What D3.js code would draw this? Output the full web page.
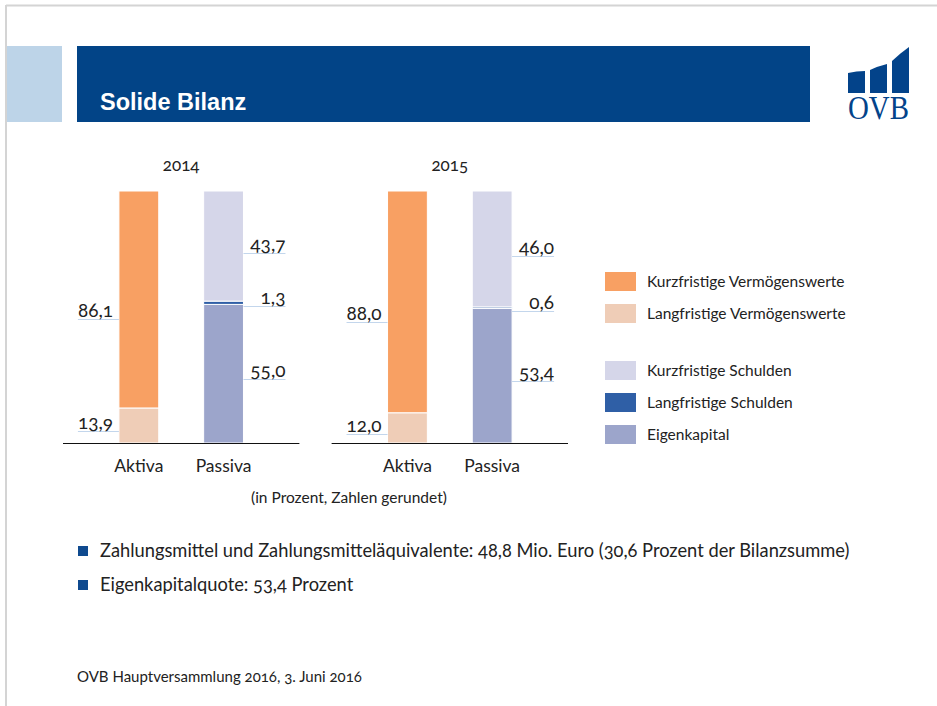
<!DOCTYPE html>
<html>
<head>
<meta charset="utf-8">
<script src="https://cdn.jsdelivr.net/npm/d3@7"></script>
<style>
  html, body { margin: 0; padding: 0; background: #fff; }
  svg { display: block; font-family: Lato, "Open Sans", sans-serif; font-variant-numeric: oldstyle-nums; }
</style>
</head>
<body>
<svg id="chart" width="937" height="706"></svg>
<script>
// Solide Bilanz — stacked Aktiva / Passiva per year

const years = ["2014", "2015"];
const sides = ["Aktiva", "Passiva"];

// Aktiva (bottom -> top)
const langfristigeVermoegen = [13.9, 12.0];
const kurzfristigeVermoegen = [86.1, 88.0];
// Passiva (bottom -> top)
const eigenkapital = [55.0, 53.4];
const langfristigeSchulden = [1.3, 0.6];
const kurzfristigeSchulden = [43.7, 46.0];

const legendNames = [
  "Kurzfristige Vermögenswerte",
  "Langfristige Vermögenswerte",
  "Kurzfristige Schulden",
  "Langfristige Schulden",
  "Eigenkapital"
];

const bullets = [
  "Zahlungsmittel und Zahlungsmitteläquivalente: 48,8 Mio. Euro (30,6 Prozent der Bilanzsumme)",
  "Eigenkapitalquote: 53,4 Prozent"
];

const fmt = v => d3.format(".1f")(v).replace(".", ",");

const color = {
  kurzV: "#f8a063",
  langV: "#efcdb7",
  kurzS: "#d5d6e9",
  langS: "#2f5fa6",
  eigen: "#9ca5cb"
};

// series per side, bottom first
const stacks = {
  Aktiva: [
    { key: "langV", values: langfristigeVermoegen, nudge: 6 },
    { key: "kurzV", values: kurzfristigeVermoegen, nudge: 20 }
  ],
  Passiva: [
    { key: "eigen", values: eigenkapital, nudge: 5 },
    { key: "langS", values: langfristigeSchulden, nudge: 3 },
    { key: "kurzS", values: kurzfristigeSchulden, nudge: 7 }
  ]
};

const svg = d3.select("#chart");

// ---------- slide frame ----------
svg.append("line").attr("x1", 6).attr("x2", 937).attr("y1", 5.5).attr("y2", 5.5)
  .attr("stroke", "#d4d4d4").attr("stroke-width", 2);
svg.append("line").attr("x1", 6).attr("x2", 6).attr("y1", 5).attr("y2", 706)
  .attr("stroke", "#d4d4d4").attr("stroke-width", 2);

svg.append("rect").attr("x", 7).attr("y", 46).attr("width", 55).attr("height", 76).attr("fill", "#bdd4e8");
svg.append("rect").attr("x", 77).attr("y", 46).attr("width", 733).attr("height", 76).attr("fill", "#024487");
svg.append("text").attr("x", 100).attr("y", 110)
  .attr("fill", "#fff").attr("font-family", "Liberation Sans, Arial, sans-serif")
  .attr("font-weight", "bold").attr("font-size", 23.5)
  .text("Solide Bilanz");

// logo
const logo = svg.append("g").attr("fill", "#03438a");
[[848, 865, 73, 71], [870, 887, 70, 64], [892, 909, 61, 47]].forEach(([x0, x1, yl, yr]) => {
  const p = d3.path();
  p.moveTo(x0, 93);
  p.lineTo(x0, yl);
  p.quadraticCurveTo((x0 + x1) / 2, (yl + yr) / 2 - 1, x1, yr);
  p.lineTo(x1, 93);
  p.closePath();
  logo.append("path").attr("d", p.toString());
});
logo.append("text").attr("x", 848).attr("y", 119)
  .attr("font-family", "Liberation Serif, 'DejaVu Serif', serif")
  .attr("font-size", 33).attr("textLength", 61).attr("lengthAdjust", "spacingAndGlyphs")
  .text("OVB");

// ---------- chart ----------
const y = d3.scaleLinear().domain([0, 100]).range([443, 191]);
const panel = d3.scaleBand().domain(years).range([63, 568]).paddingInner(0.12);
const side = d3.scaleBand().domain(sides).range([0, panel.bandwidth()])
  .paddingInner(0.53).paddingOuter(0.66);

years.forEach((yr, yi) => {
  const g = svg.append("g").attr("transform", `translate(${panel(yr)},0)`);

  g.append("text").attr("x", panel.bandwidth() / 2).attr("y", 171)
    .attr("text-anchor", "middle").attr("font-size", 17).attr("fill", "#222")
    .text(yr);

  sides.forEach(s => {
    const x0 = side(s);
    const bw = side.bandwidth();
    let base = 0;
    stacks[s].forEach(ser => {
      const v = ser.values[yi];
      const lo = base, hi = base + v;
      base = hi;
      g.append("rect")
        .attr("x", x0).attr("width", bw)
        .attr("y", y(hi)).attr("height", y(lo) - y(hi))
        .attr("fill", color[ser.key])
        .attr("stroke", "#fff").attr("stroke-width", 1);

      const ly = Math.round(y((lo + hi) / 2) + ser.nudge) + 0.5;
      const lx0 = s === "Aktiva" ? x0 - 41 : x0 + bw;
      const lx1 = s === "Aktiva" ? x0 : x0 + bw + 42;
      g.append("line").attr("x1", lx0).attr("x2", lx1).attr("y1", ly).attr("y2", ly)
        .attr("stroke", "#c3d6ec").attr("stroke-width", 1.2);
      g.append("text")
        .attr("x", s === "Aktiva" ? lx0 : lx1)
        .attr("y", ly - 2.5)
        .attr("text-anchor", s === "Aktiva" ? "start" : "end")
        .attr("font-size", 19).attr("fill", "#222")
        .text(fmt(v));
    });

    g.append("text").attr("x", x0 + bw / 2).attr("y", 472)
      .attr("text-anchor", "middle").attr("font-size", 17.5).attr("fill", "#222")
      .text(s);
  });

  g.append("line").attr("x1", 0).attr("x2", panel.bandwidth())
    .attr("y1", 443.5).attr("y2", 443.5).attr("stroke", "#111").attr("stroke-width", 1.2);
});

svg.append("text").attr("x", 251).attr("y", 503).attr("font-size", 15.5).attr("fill", "#222")
  .text("(in Prozent, Zahlen gerundet)");

// ---------- legend ----------
const legendKeys = ["kurzV", "langV", "kurzS", "langS", "eigen"];
const leg = svg.append("g").attr("transform", "translate(605,0)");
legendNames.forEach((name, i) => {
  const top = 272 + i * 32 + (i >= 2 ? 25 : 0);
  leg.append("rect").attr("x", 0).attr("y", top).attr("width", 31).attr("height", 19)
    .attr("fill", color[legendKeys[i]]);
  leg.append("text").attr("x", 42).attr("y", top + 14.5).attr("font-size", 15.5).attr("fill", "#222")
    .text(name);
});

// ---------- bullets ----------
bullets.forEach((t, i) => {
  const by = 557 + i * 34;
  svg.append("rect").attr("x", 78).attr("y", by - 11).attr("width", 10).attr("height", 10).attr("fill", "#0f4a8f");
  svg.append("text").attr("x", 100).attr("y", by).attr("font-size", 18.3).attr("fill", "#222").text(t);
});

svg.append("text").attr("x", 77).attr("y", 682).attr("font-size", 15).attr("fill", "#222")
  .text("OVB Hauptversammlung 2016, 3. Juni 2016");
</script>
</body>
</html>
